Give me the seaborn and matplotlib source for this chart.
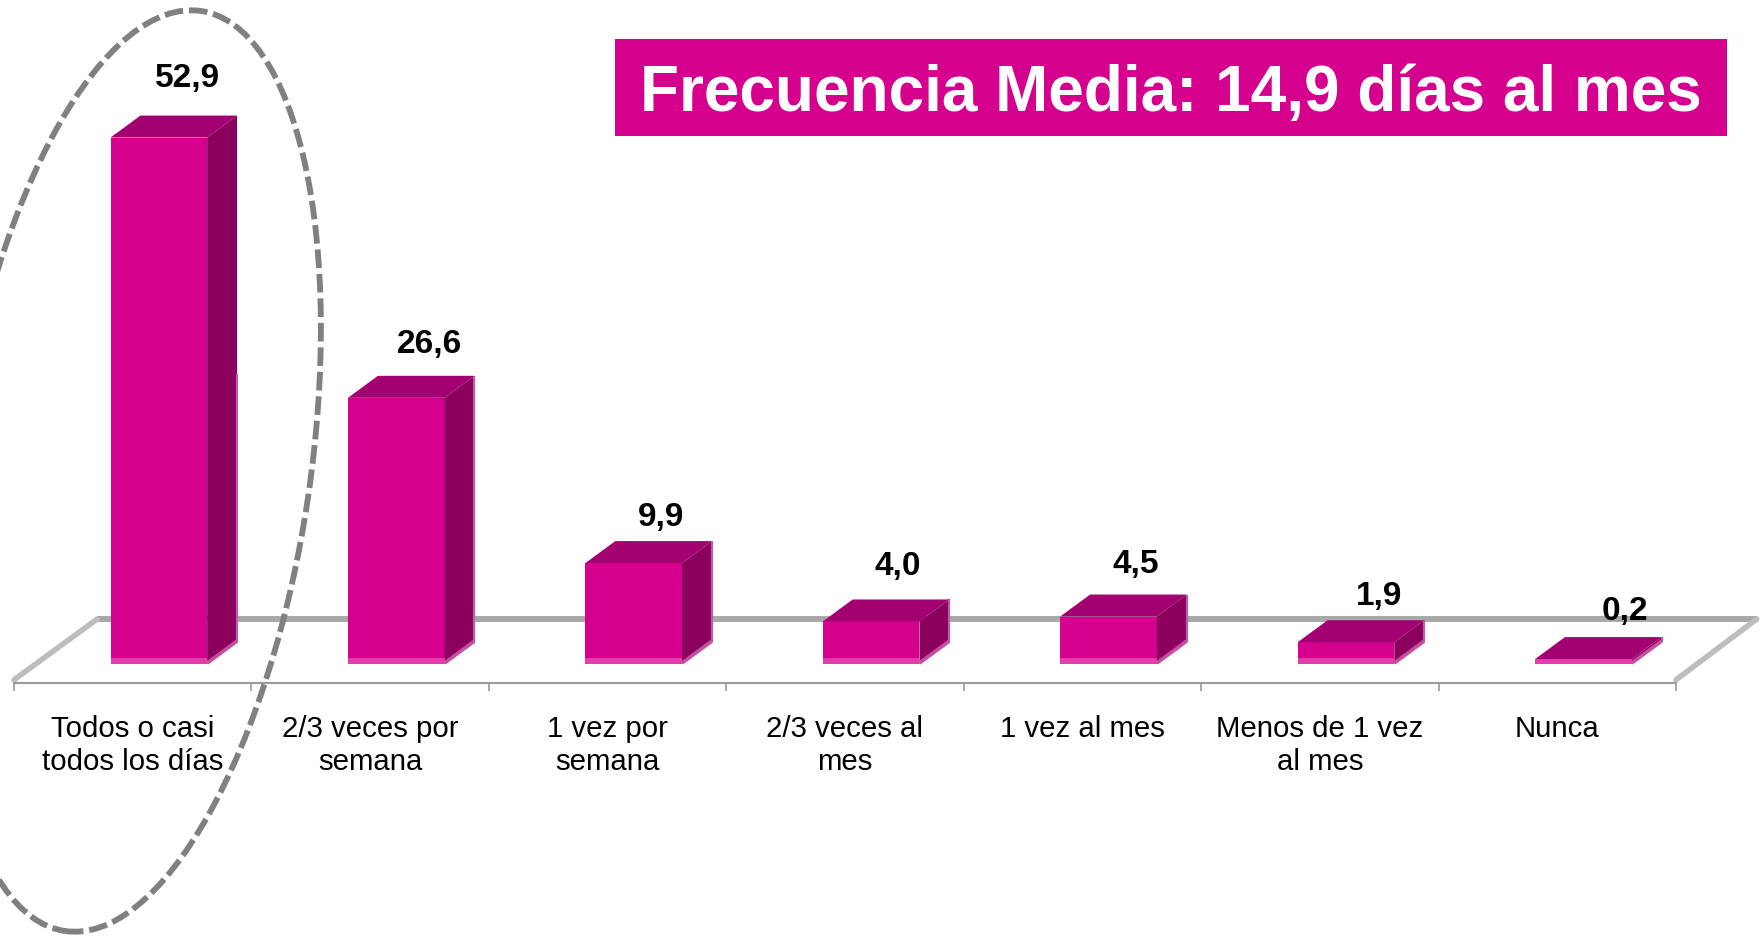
import matplotlib
matplotlib.use('Agg')
import matplotlib.pyplot as plt
import pandas as pd
import seaborn as sns
from matplotlib.patches import Ellipse, Rectangle
from matplotlib.transforms import IdentityTransform

categories = ['Todos o casi\ntodos los días', '2/3 veces por\nsemana', '1 vez por\nsemana',
              '2/3 veces al\nmes', '1 vez al mes', 'Menos de 1 vez\nal mes', 'Nunca']
values = [52.9, 26.6, 9.9, 4.0, 4.5, 1.9, 0.2]
value_labels = ['52,9', '26,6', '9,9', '4,0', '4,5', '1,9', '0,2']
title_text = 'Frecuencia Media: 14,9 días al mes'

FRONT = '#D6008F'
TOP = '#A30071'
SIDE = '#8A005C'
LIP = '#E23DAA'
EDGE = '#C44FA0'
FRINGE = '#BC5FA2'

W, H = 1764, 937
sns.set_theme(style='white')
plt.rcParams['font.family'] = ['Liberation Sans', 'DejaVu Sans']

fig = plt.figure(figsize=(W / 100, H / 100), dpi=100)
fig.patch.set_facecolor('white')
# eje: de x=14 a x=1676, y de 684 hasta arriba (px)
ax = fig.add_axes([14 / W, (H - 684) / H, (1676 - 14) / W, 684 / H])
ax.patch.set_alpha(0)

df = pd.DataFrame({'cat': categories, 'val': values})
sns.barplot(data=df, x='cat', y='val', color=FRONT, saturation=1, width=0.407, ax=ax, zorder=3)

ax.set_xlim(-0.5, 6.5)
ax.set_ylim(-2.22, 66.9)

# profundidad de las barras en unidades de datos
dx = 0.126
dy = 2.22
shift = 0.110
base = -0.3

# pared del fondo y laterales
floor_y = 4.24
ax.plot([-0.15, 6.84], [floor_y, floor_y], color='#A8A8A8', lw=4.3, zorder=1,
        solid_capstyle='butt', clip_on=False)
ax.plot([-0.5, -0.15], [-1.9, floor_y], color='#BDBDBD', lw=4.0, zorder=1, clip_on=False)
ax.plot([6.5, 6.84], [-1.9, floor_y], color='#BDBDBD', lw=4.0, zorder=1, clip_on=False)

for bar, v in zip(ax.patches, values):
    x0 = bar.get_x() + shift
    x1 = x0 + bar.get_width()
    bar.set_x(x0)
    bar.set_y(base)
    bar.set_height(v - base)
    bar.set_linewidth(0)
    # lado derecho
    ax.fill([x1, x1 + dx, x1 + dx, x1], [base, base + dy, v + dy, v],
            color=SIDE, lw=0, zorder=3)
    ax.plot([x1, x1 + dx], [base + 0.1, base + dy + 0.1], color=EDGE, lw=2.6, zorder=3,
            solid_capstyle='butt')
    # el reflejo del borde solo llega hasta media altura en la primera barra
    ax.plot([x1 + dx, x1 + dx], [base + dy, min(v + dy, 29)], color=FRINGE, lw=1.6, zorder=3,
            solid_capstyle='butt')
    # cara superior
    ax.fill([x0, x1, x1 + dx, x0 + dx], [v, v, v + dy, v + dy],
            color=TOP, lw=0, zorder=3)
    # borde inferior claro
    ax.fill([x0, x1, x1, x0], [base, base, min(v, 0.3), min(v, 0.3)],
            color=LIP, lw=0, zorder=4)

# etiquetas de valor
nudge_x = [0.012, 0.032, 0.004, 0.004, 0.004, 0.028, 0.066]
nudge_y = [3.8, 3.3, 2.5, 3.4, 3.1, 2.5, 2.7]
for i, (v, lab) in enumerate(zip(values, value_labels)):
    ax.text(i + shift + 0.11 + nudge_x[i], v + dy + nudge_y[i], lab, ha='center', va='center',
            fontsize=24, fontweight='bold', color='black', zorder=6)

# eje x: marcas entre categorias, textos centrados
ax.set_xticks([i - 0.5 for i in range(8)])
ax.set_xticklabels([])
ax.set_xticks(range(7), labels=categories, minor=True)
ax.tick_params(axis='x', which='major', length=6, width=1.2, color='#999999', bottom=True)
ax.tick_params(axis='x', which='minor', length=0, pad=22.6, labelsize=21.2, labelcolor='black')
ax.set_yticks([])
ax.set_xlabel('')
ax.set_ylabel('')
for lab in ax.get_xticklabels(minor=True):
    lab.set_linespacing(1.22)
for name in ['top', 'left', 'right']:
    ax.spines[name].set_visible(False)
ax.spines['bottom'].set_color('#999999')
ax.spines['bottom'].set_linewidth(1.5)

# recuadro del titulo
fig.add_artist(Rectangle((615 / W, (H - 137) / H), 1112 / W, 97 / H,
                         transform=fig.transFigure, facecolor=FRONT, edgecolor='none'))
fig.text(1171 / W, (H - 111) / H, title_text, color='white', fontsize=46,
         fontweight='bold', ha='center', va='baseline')

# elipse discontinua
fig.add_artist(Ellipse((133, H - 472), 354, 930, angle=-8.43, transform=IdentityTransform(),
                       fill=False, edgecolor='#808080', lw=4.2, linestyle=(0, (3.2, 1.0)), zorder=8))

fig.savefig('out.png', dpi=100)
